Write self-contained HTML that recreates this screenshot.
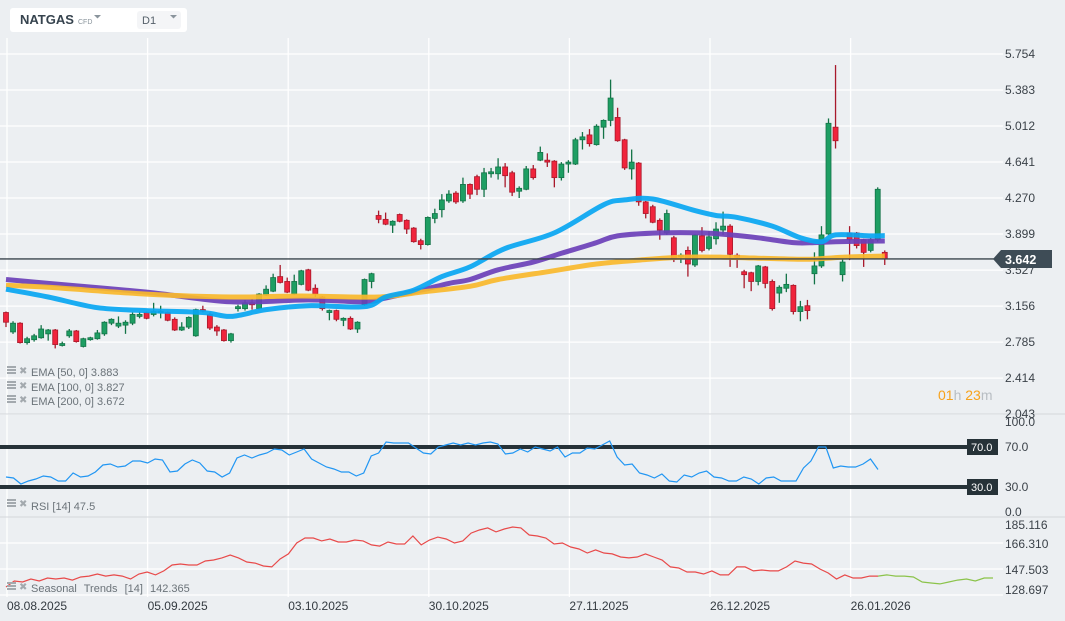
<!DOCTYPE html>
<html><head><meta charset="utf-8"><style>
html,body{margin:0;padding:0;background:#eceff2;}
#wrap{position:relative;width:1065px;height:621px;overflow:hidden;background:#eceff2;font-family:"Liberation Sans",sans-serif;}
svg text{font-family:"Liberation Sans",sans-serif;}
</style></head><body>
<div id="wrap">
<svg id="chart" width="1065" height="621" xmlns="http://www.w3.org/2000/svg">
  <g id="grid"></g>
  <g id="candles"></g>
  <g id="emas"></g>
  <g id="rsi"></g>
  <g id="seas"></g>
  <g id="labels"></g>

  <g>
    <rect x="10" y="8" width="177" height="24" rx="3" fill="#ffffff"/>
    <text x="20" y="24" font-size="13" font-weight="bold" fill="#36434e">NATGAS</text>
    <text x="78" y="24" font-size="7" fill="#8a949c">CFD</text>
    <path d="M94 15 L101 15 L97.5 18.5 Z" fill="#8a949c"/>
  </g>
  <g>
    <rect x="137" y="11" width="44" height="18" rx="3" fill="#f4f5f7"/>
    <text x="142" y="24" font-size="11" fill="#55606a">D1</text>
    <path d="M170 15 L177 15 L173.5 18.5 Z" fill="#8a949c"/>
  </g>

  <g font-size="11" fill="#6b7379">
    <g><rect x="7" y="366" width="9" height="2" fill="#a3a9ae"/><rect x="7" y="369" width="9" height="2" fill="#a3a9ae"/><rect x="7" y="372" width="9" height="2" fill="#a3a9ae"/><text x="19" y="374" fill="#a3a9ae" font-size="10">✖</text><text x="31" y="376">EMA [50, 0] 3.883</text></g>
    <g><rect x="7" y="381" width="9" height="2" fill="#a3a9ae"/><rect x="7" y="384" width="9" height="2" fill="#a3a9ae"/><rect x="7" y="387" width="9" height="2" fill="#a3a9ae"/><text x="19" y="389" fill="#a3a9ae" font-size="10">✖</text><text x="31" y="391">EMA [100, 0] 3.827</text></g>
    <g><rect x="7" y="395" width="9" height="2" fill="#a3a9ae"/><rect x="7" y="398" width="9" height="2" fill="#a3a9ae"/><rect x="7" y="401" width="9" height="2" fill="#a3a9ae"/><text x="19" y="403" fill="#a3a9ae" font-size="10">✖</text><text x="31" y="405">EMA [200, 0] 3.672</text></g>
  </g>
  <g font-size="14">
    <text x="938" y="400"><tspan fill="#f7a21b">01</tspan><tspan fill="#b8bec3">h </tspan><tspan fill="#f7a21b">23</tspan><tspan fill="#b8bec3">m</tspan></text>
  </g>
  <g font-size="11" fill="#6b7379">
    <rect x="7" y="499" width="9" height="2" fill="#a3a9ae"/><rect x="7" y="502" width="9" height="2" fill="#a3a9ae"/><rect x="7" y="505" width="9" height="2" fill="#a3a9ae"/>
    <text x="19" y="507" fill="#a3a9ae" font-size="10">✖</text><text x="31" y="510">RSI [14] 47.5</text>
  </g>
  <g font-size="11" fill="#6b7379">
    <rect x="7" y="582" width="9" height="2" fill="#a3a9ae"/><rect x="7" y="585" width="9" height="2" fill="#a3a9ae"/><rect x="7" y="588" width="9" height="2" fill="#a3a9ae"/>
    <text x="19" y="590" fill="#a3a9ae" font-size="10">✖</text><text x="31" y="592" word-spacing="4">Seasonal Trends [14] 142.365</text>
  </g>
</svg>
</div>
<script>
// ===== data =====
const opens  = [3.09,2.89,2.98,2.78,2.81,2.83,2.87,2.91,2.75,2.85,2.90,2.74,2.81,2.82,2.87,2.98,2.95,2.96,2.98,3.05,3.09,3.07,3.09,3.09,3.02,2.91,2.94,2.85,3.12,3.07,2.94,2.91,2.80,3.13,3.13,3.19,3.13,3.27,3.31,3.46,3.41,3.28,3.38,3.53,3.34,3.25,3.09,3.11,3.01,3.03,2.92,3.17,3.41,4.09,4.05,3.99,4.10,4.04,3.96,3.83,3.79,4.06,4.15,4.24,4.32,4.24,4.41,4.49,4.36,4.52,4.52,4.59,4.53,4.34,4.36,4.57,4.66,4.66,4.65,4.48,4.62,4.62,4.87,4.92,4.82,5.00,5.07,5.10,4.87,4.57,4.63,4.23,4.18,4.04,3.91,3.86,3.67,3.73,3.58,3.88,3.75,3.85,3.94,3.98,3.68,3.51,3.50,3.41,3.56,3.41,3.29,3.34,3.37,3.10,3.16,3.49,3.57,3.90,5.00,3.48,3.91,3.91,3.84,3.73,3.84,3.71];
const closes = [2.99,2.98,2.78,2.82,2.85,2.92,2.91,2.76,2.77,2.90,2.79,2.82,2.83,2.88,2.99,3.02,2.98,2.99,3.07,3.07,3.03,3.10,3.10,3.01,2.91,2.94,3.04,3.12,3.11,2.93,2.90,2.80,2.87,3.15,3.19,3.17,3.28,3.33,3.45,3.40,3.30,3.41,3.52,3.32,3.28,3.13,3.11,3.02,3.03,2.92,2.99,3.43,3.49,4.05,4.00,4.03,4.03,3.95,3.82,3.79,4.07,4.11,4.25,4.31,4.23,4.41,4.31,4.36,4.53,4.54,4.59,4.50,4.33,4.37,4.57,4.48,4.74,4.64,4.48,4.62,4.64,4.87,4.90,4.83,5.01,5.07,5.30,4.86,4.58,4.64,4.23,4.11,4.02,3.94,4.11,3.64,3.68,3.59,3.89,3.73,3.87,3.95,3.98,3.69,3.66,3.48,3.41,3.57,3.39,3.13,3.35,3.38,3.10,3.15,3.11,3.57,3.89,5.04,4.86,3.61,3.84,3.78,3.71,3.84,4.36,3.642];
const highs  = [3.10,3.00,2.99,2.84,2.87,2.96,2.92,2.92,2.79,2.92,2.91,2.83,2.84,2.91,3.00,3.03,3.05,3.01,3.09,3.10,3.10,3.19,3.16,3.10,3.04,2.99,3.05,3.13,3.16,3.09,2.96,2.92,2.88,3.17,3.22,3.23,3.29,3.37,3.49,3.58,3.45,3.48,3.53,3.54,3.38,3.26,3.12,3.12,3.04,3.05,3.00,3.44,3.50,4.14,4.12,4.04,4.11,4.05,3.97,3.85,4.08,4.16,4.31,4.35,4.34,4.48,4.42,4.51,4.58,4.58,4.68,4.63,4.55,4.39,4.60,4.61,4.80,4.73,4.66,4.64,4.66,4.89,4.95,4.98,5.03,5.08,5.49,5.20,4.88,4.77,4.64,4.24,4.20,4.06,4.15,3.88,3.70,3.77,3.90,3.97,3.93,4.02,4.13,4.00,3.70,3.53,3.51,3.58,3.57,3.43,3.37,3.49,3.38,3.21,3.22,3.71,3.98,5.09,5.64,3.64,3.98,3.92,3.85,3.86,4.38,3.73];
const lows   = [2.94,2.87,2.77,2.76,2.79,2.82,2.80,2.72,2.74,2.83,2.78,2.73,2.80,2.81,2.85,2.96,2.93,2.87,2.96,3.03,3.02,3.05,3.03,3.00,2.90,2.90,2.92,2.84,3.09,2.91,2.85,2.79,2.78,3.10,3.11,3.12,3.12,3.26,3.30,3.39,3.29,3.27,3.37,3.31,3.25,3.11,3.01,3.00,2.95,2.91,2.88,3.16,3.34,4.01,3.99,3.91,4.02,3.90,3.81,3.74,3.78,4.01,4.07,4.22,4.21,4.22,4.26,4.30,4.28,4.48,4.46,4.38,4.29,4.27,4.35,4.46,4.65,4.59,4.38,4.45,4.53,4.61,4.77,4.80,4.81,4.88,5.01,4.85,4.56,4.46,4.19,4.06,4.01,3.84,3.89,3.61,3.60,3.46,3.56,3.71,3.73,3.79,3.89,3.56,3.55,3.34,3.31,3.37,3.34,3.11,3.19,3.30,3.07,3.00,3.02,3.38,3.55,3.89,4.78,3.41,3.63,3.75,3.56,3.71,3.82,3.58];

const ema50Idx  = [0,6,13,20,28,32,37,43,51,54,58,62,66,71,78,85,88,92,98,101,104,109,113,116,118,123,125];
const ema50Val  = [3.33,3.25,3.14,3.11,3.09,3.05,3.12,3.16,3.15,3.25,3.32,3.46,3.56,3.75,3.91,4.20,4.25,4.26,4.14,4.09,4.07,3.98,3.86,3.82,3.89,3.88,3.883];
const ema100Idx = [0,6,20,32,43,51,54,59,63,66,70,75,79,84,87,93,99,103,107,112,115,118,125];
const ema100Val = [3.43,3.39,3.30,3.20,3.22,3.20,3.24,3.32,3.39,3.43,3.53,3.61,3.70,3.81,3.88,3.91,3.91,3.89,3.86,3.81,3.81,3.82,3.827];
const ema200Idx = [0,6,20,32,42,53,59,66,70,77,84,90,96,102,107,112,115,119,125];
const ema200Val = [3.37,3.35,3.28,3.25,3.26,3.25,3.30,3.36,3.43,3.51,3.59,3.63,3.66,3.66,3.65,3.64,3.64,3.66,3.672];

const rsiVals = [40,39,33,36,38,41,40,36,36,44,40,41,45,52,53,50,51,56,56,54,58,57,45,46,53,57,54,46,45,40,44,59,62,59,62,64,68,67,62,65,68,58,54,50,48,45,45,41,44,61,64,75,74,74,74,69,64,63,70,72,74,72,74,72,74,75,73,63,64,68,65,70,68,66,70,60,64,64,69,68,72,76,60,52,53,44,42,39,43,36,35,42,40,44,46,40,39,36,36,40,38,33,39,40,36,36,36,49,56,70,70,49,51,50,50,53,58,47.5];
const seasVals = [134.5,138.8,138.1,140.3,138.8,141.0,140.3,141.0,139.5,141.7,142.4,143.9,142.4,143.2,142.4,140.3,143.9,145.3,143.2,146.1,150.4,151.1,150.4,150.4,153.3,154.0,155.5,157.6,155.5,152.6,151.8,149.7,149.0,154.7,158.4,166.3,169.9,169.9,167.8,169.2,167.0,167.0,168.5,167.8,164.9,164.1,167.0,165.6,165.6,171.4,164.9,168.5,170.6,169.2,166.3,167.8,173.5,175.7,177.2,174.3,176.4,177.9,177.2,172.1,171.4,169.9,165.6,166.3,163.4,162.0,159.1,161.3,159.1,158.4,156.2,155.5,156.2,158.4,156.2,154.0,149.0,148.2,145.3,145.3,143.9,146.1,143.2,143.2,149.0,149.0,146.1,146.8,146.1,146.1,149.0,153.3,151.8,151.1,147.5,144.6,140.3,143.2,141.0,141.0,142.4,142.365];
const seasForecast = [142.365,143.2,142.4,142.4,141.7,138.1,137.4,136.7,138.1,139.5,140.3,138.8,141.0,141.0];

const priceTicks = [5.754,5.383,5.012,4.641,4.270,3.899,3.527,3.156,2.785,2.414,2.043];
const rsiTicks = [100,70,30,0];
const seasTicks = [185.116,166.310,147.503,128.697];
const dateLabels = ["08.08.2025","05.09.2025","03.10.2025","30.10.2025","27.11.2025","26.12.2025","26.01.2026"];
const dateIdx = [0,20,40,60,80,100,120];
const lastPrice = 3.642;

// ===== scales =====
const NS='http://www.w3.org/2000/svg';
const xC = i => 6 + i*7.03;
const yP = p => 54 + (5.754-p)*97.04;
const yR = v => 517 - v;
const yS = v => 595 - (v-128.697)*1.3826;
function mk(tag, attrs, parent){const e=document.createElementNS(NS,tag);for(const k in attrs)e.setAttribute(k,attrs[k]);parent.appendChild(e);return e;}

const grid=document.getElementById('grid');
dateIdx.forEach((d,k)=>{
  const x=xC(d)+1;
  const l=mk('line',{x1:x,y1:38,x2:x,y2:597,stroke:'#ffffff','stroke-width':1.3},grid);
  
  
});
priceTicks.forEach(p=>{
  const l=mk('line',{x1:0,y1:yP(p),x2:1003,y2:yP(p),stroke:'#ffffff','stroke-width':1.3},grid);
  
  
});
[414,517].forEach(y=>{
  const l=mk('line',{x1:0,y1:y,x2:1065,y2:y,stroke:'#d3d7db','stroke-width':1},grid);
  
  
});
seasTicks.slice(1).forEach(v=>{
  const l=mk('line',{x1:0,y1:yS(v),x2:1003,y2:yS(v),stroke:'#ffffff','stroke-width':1.3},grid);
  
  
});

// candles
const cg=document.getElementById('candles');
for(let i=0;i<opens.length;i++){
  const up=closes[i]>=opens[i];
  const fill=up?'#1e9e63':'#f0243c', st=up?'#137347':'#a8192b';
  const x=xC(i);
  const g=mk('g',{},cg);
  
  
  mk('line',{x1:x,y1:yP(highs[i]),x2:x,y2:yP(lows[i]),stroke:st,'stroke-width':1.3},g);
  const top=yP(Math.max(opens[i],closes[i])), bot=yP(Math.min(opens[i],closes[i]));
  mk('rect',{x:x-2.5,y:top,width:5,height:Math.max(1.5,bot-top),fill:fill,stroke:st,'stroke-width':0.8},g);
}

// EMAs (smoothed curves through sampled points)
const eg=document.getElementById('emas');
function smoothPath(pts){
  let d='M'+pts[0][0].toFixed(1)+' '+pts[0][1].toFixed(1);
  for(let i=0;i<pts.length-1;i++){
    const p0=pts[Math.max(0,i-1)],p1=pts[i],p2=pts[i+1],p3=pts[Math.min(pts.length-1,i+2)];
    const c1x=p1[0]+(p2[0]-p0[0])/6,c1y=p1[1]+(p2[1]-p0[1])/6;
    const c2x=p2[0]-(p3[0]-p1[0])/6,c2y=p2[1]-(p3[1]-p1[1])/6;
    d+=` C${c1x.toFixed(1)} ${c1y.toFixed(1)} ${c2x.toFixed(1)} ${c2y.toFixed(1)} ${p2[0].toFixed(1)} ${p2[1].toFixed(1)}`;
  }
  return d;
}
function line(idx,vals,color,name){
  const pts=idx.map((d,k)=>[xC(d),yP(vals[k])]);
  const pl=mk('path',{d:smoothPath(pts),fill:'none',stroke:color,'stroke-width':5,'stroke-linejoin':'round','stroke-linecap':'butt','stroke-opacity':0.92},eg);
  
  
}
line(ema100Idx,ema100Val,'#6b40b8','ema-100-line');
line(ema200Idx,ema200Val,'#f9b82c','ema-200-line');
line(ema50Idx,ema50Val,'#08a6f2','ema-50-line');

// last price line
const lbl=document.getElementById('labels');
const lp=mk('line',{x1:0,y1:yP(lastPrice),x2:996,y2:yP(lastPrice),stroke:'#3a454d','stroke-width':1.3},lbl);



priceTicks.forEach(p=>{
  const t=mk('text',{x:1005,y:yP(p)+4,'font-size':12,fill:'#3b4249'},lbl);
  t.textContent=p.toFixed(3);
  
  
});
const ly=yP(lastPrice);
const tag=mk('path',{d:`M993 ${ly} L1001 ${ly-9} L1052 ${ly-9} L1052 ${ly+9} L1001 ${ly+9} Z`,fill:'#3e4c56'},lbl);


const tt=mk('text',{x:1005,y:ly+5,'font-size':12.5,'font-weight':'bold',fill:'#ffffff'},lbl);
tt.textContent=lastPrice.toFixed(3);



// RSI panel
const rg=document.getElementById('rsi');
[70,30].forEach(v=>{
  const l=mk('line',{x1:0,y1:yR(v),x2:968,y2:yR(v),stroke:'#263238','stroke-width':4},rg);
  
  
  const b=mk('rect',{x:967,y:yR(v)-8,width:31,height:16,fill:'#263238'},rg);
  
  
  const t=mk('text',{x:971,y:yR(v)+4,'font-size':11,fill:'#ffffff'},rg);
  t.textContent=v.toFixed(1);
  
  
});
rsiTicks.forEach(v=>{
  const y=v===100?yR(v)+9:(v===0?yR(v)-1:yR(v)+4);
  const t=mk('text',{x:1005,y:y,'font-size':12,fill:'#3b4249'},rg);
  t.textContent=v.toFixed(1);
  
  
});
const rStep=(878-6)/(rsiVals.length-1);
const rp=mk('polyline',{points:rsiVals.map((v,k)=>(6+k*rStep).toFixed(1)+','+yR(v).toFixed(1)).join(' '),fill:'none',stroke:'#2196f3','stroke-width':1.2},rg);



// Seasonal panel
const sg=document.getElementById('seas');
seasTicks.forEach((v,k)=>{
  const y=k===0?yS(v)+12:(k===3?yS(v)-1:yS(v)+5);
  const t=mk('text',{x:1005,y:y,'font-size':12,fill:'#3b4249'},sg);
  t.textContent=v.toFixed(3);
  
  
});
const sStep=(878-6)/(seasVals.length-1);
const sp=mk('polyline',{points:seasVals.map((v,k)=>(6+k*sStep).toFixed(1)+','+yS(v).toFixed(1)).join(' '),fill:'none',stroke:'#e84a4a','stroke-width':1.2},sg);


const fStep=(993-878)/(seasForecast.length-1);
const fp=mk('polyline',{points:seasForecast.map((v,k)=>(878+k*fStep).toFixed(1)+','+yS(v).toFixed(1)).join(' '),fill:'none',stroke:'#8bc34a','stroke-width':1.2},sg);



dateLabels.forEach((s,k)=>{
  const t=mk('text',{x:xC(dateIdx[k])+1,y:610,'font-size':12,fill:'#333a40'},lbl);
  t.textContent=s;
  
  
});
</script>
</body></html>
